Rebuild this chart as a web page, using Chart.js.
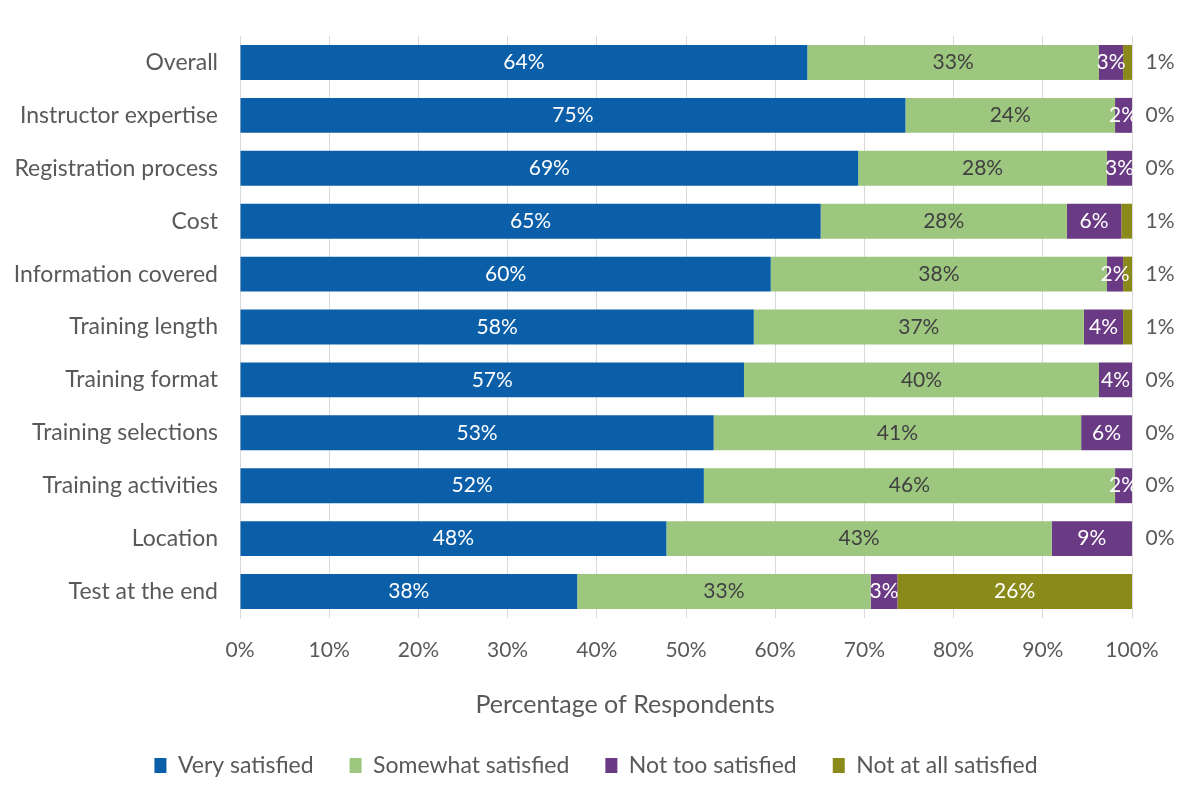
<!DOCTYPE html>
<html>
<head>
<meta charset="utf-8">
<script src="https://cdn.jsdelivr.net/npm/chart.js@4/dist/chart.umd.min.js"></script>
<style>
  html, body { margin: 0; padding: 0; background: #fff; }
  #wrap { width: 1181px; height: 800px; }
</style>
</head>
<body>
<div id="wrap"><canvas id="chart" width="1181" height="800"></canvas></div>
<script>
// ── Data ─────────────────────────────────────────
const categories = [
  'Overall', 'Instructor expertise', 'Registration process', 'Cost',
  'Information covered', 'Training length', 'Training format',
  'Training selections', 'Training activities', 'Location', 'Test at the end',
];
const verySatisfied     = [63.6, 74.6, 69.3, 65.1, 59.5, 57.6, 56.5, 53.1, 52.0, 47.8, 37.8];
const somewhatSatisfied = [32.7, 23.5, 27.9, 27.6, 37.7, 37.0, 39.8, 41.2, 46.1, 43.2, 32.9];
const notTooSatisfied   = [2.7, 1.9, 2.8, 6.1, 1.8, 4.4, 3.7, 5.7, 1.9, 9.0, 3.0];
const notAtAll          = [1.0, 0, 0, 1.2, 1.0, 1.0, 0, 0, 0, 0, 26.3];
const xTicks = [0, 10, 20, 30, 40, 50, 60, 70, 80, 90, 100];

const FONT = 'Lato, "Open Sans", sans-serif';
const TEXT = '#595959';

// ── Data labels (no datalabels plugin available) ─
const barLabels = {
  id: 'barLabels',
  afterDatasetsDraw(chart) {
    const { ctx, chartArea } = chart;
    ctx.save();
    ctx.font = '21px ' + FONT;
    ctx.textBaseline = 'middle';
    ctx.textAlign = 'center';
    chart.data.datasets.forEach((ds, di) => {
      const meta = chart.getDatasetMeta(di);
      meta.data.forEach((bar, i) => {
        const v = ds.data[i];
        const txt = Math.round(v) + '%';
        const cx = (bar.x + bar.base) / 2;
        if (di === 3 && v < 5) {
          // small "not at all" values sit to the right of the bar
          ctx.fillStyle = TEXT;
          ctx.fillText(txt, chartArea.right + 28, bar.y);
          return;
        }
        ctx.fillStyle = di === 1 ? '#404040' : '#ffffff';
        ctx.fillText(txt, cx, bar.y);
      });
    });
    ctx.restore();
  },
};

// nudge the legend right so it centres on the page, not the plot box
const legendShift = {
  id: 'legendShift',
  afterLayout(chart) {
    if (!chart.legend) return;
    chart.legend.left += 30;
    chart.legend.right += 30;
  },
};

new Chart(document.getElementById('chart').getContext('2d'), {
  type: 'bar',
  data: {
    labels: categories,
    datasets: [
      { label: 'Very satisfied', data: verySatisfied, backgroundColor: '#0A5FA8' },
      { label: 'Somewhat satisfied', data: somewhatSatisfied, backgroundColor: '#9DC77F' },
      { label: 'Not too satisfied', data: notTooSatisfied, backgroundColor: '#6A3A84' },
      { label: 'Not at all satisfied', data: notAtAll, backgroundColor: '#8A8A1A' },
    ],
  },
  options: {
    indexAxis: 'y',
    responsive: false,
    animation: false,
    categoryPercentage: 1,
    barPercentage: 0.66,
    layout: { padding: { top: 36, right: 49, bottom: 20, left: 0 } },
    plugins: {
      legend: {
        position: 'bottom',
        maxHeight: 62,
        labels: {
          color: TEXT,
          font: { family: FONT, size: 23 },
          boxWidth: 12,
          boxHeight: 15,
          padding: 36,
        },
      },
      tooltip: { enabled: false },
    },
    scales: {
      x: {
        stacked: true,
        min: 0,
        max: 100,
        afterBuildTicks: (s) => { s.ticks = xTicks.map((v) => ({ value: v })); },
        afterFit: (s) => { s.height = 100; },
        grid: { color: '#d9d9d9', drawTicks: false },
        border: { display: false },
        ticks: { color: TEXT, font: { family: FONT, size: 21 }, padding: 20, callback: (v) => v + '%' },
        title: {
          display: true,
          // trailing spaces nudge the title left, like the original
          text: 'Percentage of Respondents' + '\u00a0'.repeat(19),
          color: TEXT,
          font: { family: FONT, size: 25 },
          padding: { top: 10, bottom: -2 },
        },
      },
      y: {
        stacked: true,
        afterFit: (s) => { s.width = 240; },
        grid: { display: false, drawTicks: false },
        border: { color: '#d9d9d9' },
        ticks: { color: TEXT, font: { family: FONT, size: 23 }, padding: 22 },
      },
    },
  },
  plugins: [barLabels, legendShift],
});
</script>
</body>
</html>
